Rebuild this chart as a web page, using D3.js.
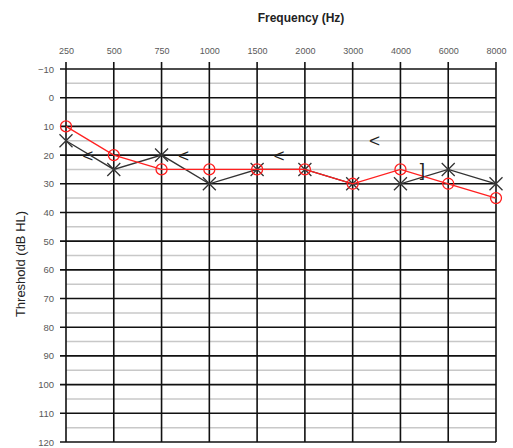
<!DOCTYPE html>
<html>
<head>
<meta charset="utf-8">
<script src="https://cdn.jsdelivr.net/npm/d3@7"></script>
<style>
  html, body { margin: 0; padding: 0; background: #fff; }
</style>
</head>
<body>
<div id="art"></div>
<script>
const frequencies = ["250", "500", "750", "1000", "1500", "2000", "3000", "4000", "6000", "8000"];
const levels = [-10, 0, 10, 20, 30, 40, 50, 60, 70, 80, 90, 100, 110, 120];
const rightAir = [10, 20, 25, 25, 25, 25, 30, 25, 30, 35];
const leftAir = [15, 25, 20, 30, 25, 25, 30, 30, 25, 30];
// bone symbols sit between two frequency lines
const bone = [
  { from: "250", to: "500", v: 20, sym: "<" },
  { from: "750", to: "1000", v: 20, sym: "<" },
  { from: "1500", to: "2000", v: 20, sym: "<" },
  { from: "3000", to: "4000", v: 15, sym: "<" },
  { from: "4000", to: "6000", v: 25, sym: "]" }
];

function art() {
  const width = 513, height = 448;
  const margin = { top: 69, right: 17, bottom: 6, left: 66 };

  const svg = d3.select("#art").append("svg")
    .attr("width", width)
    .attr("height", height)
    .style("font-family", "'Liberation Sans', Arial, sans-serif");

  const x = d3.scalePoint()
    .domain(frequencies)
    .range([margin.left, width - margin.right]);

  const y = d3.scaleLinear()
    .domain([-10, 120])
    .range([margin.top, height - margin.bottom]);

  // minor grid
  svg.append("g").selectAll("line")
    .data(d3.range(-5, 120, 10))
    .join("line")
    .attr("x1", x.range()[0]).attr("x2", x.range()[1])
    .attr("y1", d => y(d)).attr("y2", d => y(d))
    .attr("stroke", "#c8c8c8").attr("stroke-width", 1.5);

  // major grid
  svg.append("g").selectAll("line")
    .data(levels)
    .join("line")
    .attr("x1", x.range()[0] - 6).attr("x2", x.range()[1])
    .attr("y1", d => y(d)).attr("y2", d => y(d))
    .attr("stroke", "#111").attr("stroke-width", 1.6);

  // vertical lines
  svg.append("g").selectAll("line")
    .data(frequencies)
    .join("line")
    .attr("x1", d => x(d)).attr("x2", d => x(d))
    .attr("y1", y(-10) - 7).attr("y2", y(120))
    .attr("stroke", "#111").attr("stroke-width", 1.6);

  // top axis labels
  const xAxis = d3.axisTop(x).tickSize(0).tickPadding(0);
  const gx = svg.append("g")
    .attr("transform", `translate(0,${y(-10) - 18})`)
    .call(xAxis);
  gx.select(".domain").remove();
  gx.selectAll("text").attr("font-size", 9).attr("fill", "#595959")
    .attr("font-family", "'Liberation Sans', Arial, sans-serif")
    .attr("dy", "0.3em");

  // left axis labels
  const yAxis = d3.axisLeft(y).tickValues(levels).tickSize(0).tickPadding(12);
  const gy = svg.append("g")
    .attr("transform", `translate(${margin.left},0)`)
    .call(yAxis);
  gy.select(".domain").remove();
  gy.selectAll("text").attr("font-size", 9.5).attr("fill", "#595959")
    .attr("font-family", "'Liberation Sans', Arial, sans-serif");

  // titles
  svg.append("text")
    .attr("x", 301).attr("y", 22)
    .attr("text-anchor", "middle")
    .attr("font-size", 12).attr("font-weight", "bold").attr("fill", "#222")
    .text("Frequency (Hz)");

  svg.append("text")
    .attr("transform", `translate(25,${264}) rotate(-90)`)
    .attr("text-anchor", "middle")
    .attr("font-size", 13).attr("fill", "#222")
    .text("Threshold (dB HL)");

  const line = d3.line().x((d, i) => x(frequencies[i])).y(d => y(d));

  // left ear (X)
  svg.append("path")
    .datum(leftAir)
    .attr("d", line)
    .attr("fill", "none").attr("stroke", "#333").attr("stroke-width", 1.3);

  const s = 6.5;
  svg.append("g").selectAll("path")
    .data(leftAir)
    .join("path")
    .attr("d", (d, i) => {
      const cx = x(frequencies[i]), cy = y(d);
      return `M${cx - s},${cy - s}L${cx + s},${cy + s}M${cx - s},${cy + s}L${cx + s},${cy - s}`;
    })
    .attr("stroke", "#333").attr("stroke-width", 1.3);

  // right ear (O)
  svg.append("path")
    .datum(rightAir)
    .attr("d", line)
    .attr("fill", "none").attr("stroke", "#ff2020").attr("stroke-width", 1.3);

  svg.append("g").selectAll("circle")
    .data(rightAir)
    .join("circle")
    .attr("cx", (d, i) => x(frequencies[i]))
    .attr("cy", d => y(d))
    .attr("r", 5.5)
    .attr("fill", "none").attr("stroke", "#ff2020").attr("stroke-width", 1.3);

  // bone conduction symbols
  svg.append("g").selectAll("text")
    .data(bone)
    .join("text")
    .attr("x", d => (x(d.from) + x(d.to)) / 2 - 2)
    .attr("y", d => y(d.v))
    .attr("dy", "0.35em")
    .attr("text-anchor", "middle")
    .attr("font-size", 19).attr("fill", "#222")
    .text(d => d.sym);
}

window.onload = function () {
  art();
};
</script>
</body>
</html>
